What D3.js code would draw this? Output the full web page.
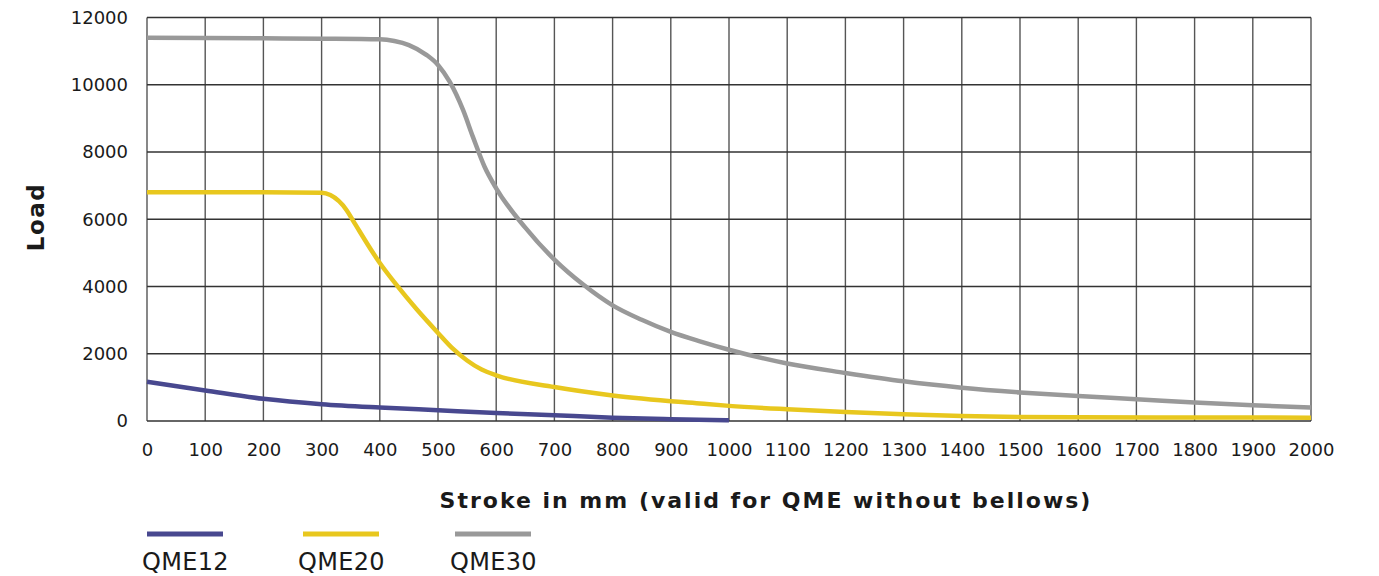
<!DOCTYPE html>
<html>
<head>
<meta charset="utf-8">
<script src="https://cdn.jsdelivr.net/npm/d3@7"></script>
<style>
  body { margin: 0; background: #fff; }
  svg text { font-family: "DejaVu Sans", "Liberation Sans", Arial, sans-serif; fill: #1a1a1a; }
</style>
</head>
<body>
<svg id="chart"></svg>
<script>
// stroke positions (mm) and load values
const qme12X = [0, 100, 200, 300, 400, 500, 600, 700, 800, 900, 1000];
const qme12Y = [1170, 910, 660, 500, 400, 320, 240, 170, 100, 55, 20];

const qme20X = [0, 100, 200, 300, 315, 343, 354, 400, 429, 463, 500, 525, 550, 575, 600, 700, 800, 950, 1000, 1100, 1200, 1300, 1400, 1500, 1600, 1800, 2000];
const qme20Y = [6800, 6800, 6800, 6790, 6720, 6270, 5960, 4700, 4040, 3330, 2620, 2160, 1800, 1530, 1360, 1010, 760, 520, 450, 350, 270, 200, 150, 120, 110, 105, 100];

const qme30X = [0, 100, 200, 300, 400, 425, 450, 480, 500, 520, 543, 560, 580, 600, 650, 700, 750, 800, 850, 900, 950, 1000, 1100, 1200, 1300, 1400, 1500, 1600, 1700, 1800, 1900, 2000];
const qme30Y = [11400, 11390, 11380, 11370, 11350, 11300, 11180, 10890, 10590, 10090, 9250, 8450, 7560, 6920, 5750, 4800, 4050, 3440, 3010, 2650, 2370, 2120, 1710, 1430, 1180, 990, 850, 740, 650, 550, 470, 400];

const seriesNames = ['QME12', 'QME20', 'QME30'];
const seriesColors = ['#48488f', '#e8c71e', '#999999'];
const xTicks = d3.range(0, 2001, 100);
const yTicks = [0, 2000, 4000, 6000, 8000, 10000, 12000];
const xTitle = 'Stroke in mm (valid for QME without bellows)';
const yTitle = 'Load';

const margin = { top: 17.5, left: 147, right: 68, bottom: 155 };
const W = 1379, H = 576;
const width = W - margin.left - margin.right;
const height = H - margin.top - margin.bottom;

const svg = d3.select('#chart').attr('width', W).attr('height', H);
const g = svg.append('g').attr('transform', `translate(${margin.left},${margin.top})`);

const x = d3.scaleLinear().domain([0, 2000]).range([0, width]);
const y = d3.scaleLinear().domain([0, 12000]).range([height, 0]);

// grid
g.append('g').selectAll('line').data(xTicks).enter().append('line')
  .attr('x1', d => x(d)).attr('x2', d => x(d))
  .attr('y1', 0).attr('y2', height)
  .attr('stroke', '#555').attr('stroke-width', 1.4);
g.append('g').selectAll('line').data(yTicks).enter().append('line')
  .attr('x1', 0).attr('x2', width)
  .attr('y1', d => y(d)).attr('y2', d => y(d))
  .attr('stroke', '#333').attr('stroke-width', 1.4);

// axes (labels only)
const xAxis = g.append('g').attr('transform', `translate(0,${height})`)
  .call(d3.axisBottom(x).tickValues(xTicks).tickSize(0).tickPadding(22).tickFormat(d3.format('d')));
const yAxis = g.append('g')
  .call(d3.axisLeft(y).tickValues(yTicks).tickSize(0).tickPadding(19).tickFormat(d3.format('d')));
[xAxis, yAxis].forEach(a => {
  a.select('.domain').remove();
  a.selectAll('text').style('font-size', '18px').style('font-family', '"DejaVu Sans", sans-serif').attr('fill', '#1a1a1a');
});

// lines
const line = d3.line().x(d => x(d[0])).y(d => y(d[1])).curve(d3.curveMonotoneX);
const seriesData = [
  d3.zip(qme12X, qme12Y),
  d3.zip(qme20X, qme20Y),
  d3.zip(qme30X, qme30Y)
];
seriesData.forEach((data, i) => {
  g.append('path')
    .datum(data)
    .attr('fill', 'none')
    .attr('stroke', seriesColors[i])
    .attr('stroke-width', 4.5)
    .attr('d', line);
});

// titles
svg.append('text')
  .attr('x', 766)
  .attr('y', 508)
  .attr('text-anchor', 'middle')
  .style('font-size', '22px')
  .style('font-weight', 'bold')
  .style('letter-spacing', '2px')
  .attr('fill', '#000')
  .text(xTitle);

svg.append('text')
  .attr('transform', 'translate(44,217) rotate(-90)')
  .attr('text-anchor', 'middle')
  .style('font-size', '23px')
  .style('font-weight', 'bold')
  .style('letter-spacing', '1.5px')
  .attr('fill', '#000')
  .text(yTitle);

// legend
const legendX = [0, 156, 308];
const legend = svg.append('g').attr('transform', 'translate(147,534)');
seriesNames.forEach((name, i) => {
  legend.append('line')
    .attr('x1', legendX[i]).attr('x2', legendX[i] + 76)
    .attr('y1', 0).attr('y2', 0)
    .attr('stroke', seriesColors[i])
    .attr('stroke-width', 5);
  legend.append('text')
    .attr('x', legendX[i] - 5)
    .attr('y', 36)
    .style('font-size', '24px')
    .style('letter-spacing', '0.3px')
    .attr('fill', '#1a1a1a')
    .text(name);
});
</script>
</body>
</html>
